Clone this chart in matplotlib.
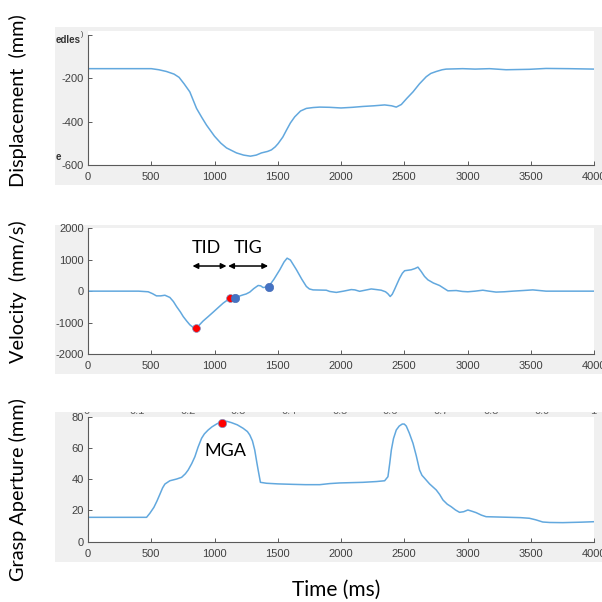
import matplotlib
matplotlib.use("Agg")
import matplotlib.pyplot as plt
from matplotlib.patches import Rectangle
from matplotlib.transforms import Bbox, TransformedBbox

# ---- displacement trace (mm) ----
disp_t = [0, 300, 500, 560, 620, 680, 720, 760, 805, 858, 900, 937, 1000, 1050, 1095,
          1174, 1230, 1284, 1330, 1371, 1420, 1450, 1480, 1503, 1540, 1569, 1600, 1634,
          1680, 1726, 1780, 1832, 1910, 2000, 2090, 2174, 2260, 2345, 2400, 2437, 2477,
          2520, 2569, 2620, 2674, 2710, 2753, 2800, 2832, 2962, 3060, 3174, 3305, 3489,
          3621, 3800, 4000]
disp_v = [-155, -155, -155, -160, -168, -180, -195, -225, -262, -338, -380, -415, -466,
          -498, -520, -543, -553, -558, -553, -543, -536, -529, -515, -500, -470, -438,
          -405, -377, -350, -338, -334, -332, -333, -336, -333, -329, -326, -322, -326,
          -332, -320, -292, -262, -225, -192, -177, -168, -160, -157, -155, -157, -155,
          -160, -158, -154, -155, -157]

# ---- velocity trace (mm/s) ----
vel_t = [0, 400, 476, 510, 541, 575, 608, 647, 675, 700, 730, 753, 780, 805, 830, 850,
         870, 910, 950, 989, 1030, 1068, 1100, 1134, 1180, 1226, 1250, 1279, 1310, 1345,
         1365, 1384, 1400, 1429, 1470, 1516, 1550, 1574, 1600, 1648, 1690, 1726, 1750,
         1779, 1884, 1911, 1963, 2020, 2081, 2110, 2147, 2190, 2239, 2280, 2318, 2352,
         2370, 2389, 2405, 2424, 2445, 2463, 2485, 2503, 2555, 2585, 2608, 2634, 2660,
         2687, 2730, 2779, 2810, 2845, 2911, 2960, 3003, 3060, 3121, 3170, 3226, 3290,
         3358, 3440, 3516, 3621, 3800, 4000]
vel_v = [0, 0, -20, -80, -150, -150, -130, -200, -330, -490, -660, -810, -950, -1070,
         -1150, -1170, -1120, -950, -810, -670, -520, -383, -290, -225, -180, -118, -90,
         -30, 80, 180, 170, 115, 125, 150, 380, 680, 930, 1050, 990, 680, 380, 150, 70,
         40, 30, -10, -40, 0, 50, 40, -5, 30, 70, 50, 30, -20, -80, -170, -100, 60, 250,
         410, 570, 650, 680, 720, 765, 625, 470, 360, 260, 180, 100, 10, 20, -10, -20, 0,
         30, 0, -30, -20, 0, 20, 40, 0, 0, 0]

# event markers on the velocity trace
red_t = [850, 1122]
red_v = [-1160, -222]
blue_t = [1160, 1427]
blue_v = [-222, 147]

# interval arrows (TID, TIG)
tid_span = [826, 1095]
tig_span = [1108, 1424]
arrow_level = 800

# ---- grasp aperture trace (mm) ----
grasp_t = [0, 300, 463, 489, 521, 545, 568, 590, 608, 647, 700, 740, 770, 792, 820,
           845, 870, 898, 920, 950, 980, 1016, 1063, 1100, 1134, 1180, 1226, 1260, 1279,
           1300, 1318, 1335, 1345, 1363, 1411, 1500, 1621, 1720, 1832, 1911, 1990, 2174,
           2280, 2345, 2371, 2385, 2398, 2415, 2437, 2460, 2484, 2500, 2516, 2540, 2569,
           2595, 2621, 2640, 2661, 2700, 2753, 2780, 2806, 2840, 2871, 2905, 2937, 2970,
           3003, 3035, 3068, 3110, 3147, 3240, 3332, 3420, 3489, 3540, 3595, 3650, 3753,
           3900, 4000]
grasp_v = [15.6, 15.6, 15.6, 18.2, 22, 26, 30.3, 34.5, 36.9, 39, 40.1, 41.2, 43.5, 45.9,
           50, 54.4, 60.5, 66.2, 69, 71.5, 73.5, 75.3, 77.2, 77, 76.2, 74.8, 72.6, 70.5,
           68.3, 64.5, 58.7, 50.5, 45.9, 38, 37.4, 37, 36.7, 36.5, 36.5, 37.2, 37.6, 38,
           38.5, 39, 41.6, 50, 58.7, 66, 71.5, 74, 75.3, 75.3, 74, 69.5, 63, 55, 45.9,
           42.5, 40.6, 37, 33.1, 30.2, 26.7, 24, 22.4, 20.3, 18.8, 19.2, 20.3, 19.5, 18.6,
           17, 16, 15.8, 15.6, 15.4, 15, 14, 12.6, 12.3, 12.2, 12.5, 12.8]

mga_t = [1063]
mga_v = [76.2]

x_ticks = [0, 500, 1000, 1500, 2000, 2500, 3000, 3500, 4000]

W = H = 602
LINE = "#62a8de"
PANEL = "#f0f0f0"
AXC = "#5a5a5a"
TICKC = "#404040"
LABEL_FONT = "Lato"
TICK_FONT = "Liberation Sans"

fig = plt.figure(figsize=(W / 100, H / 100), dpi=100)
fig.patch.set_facecolor("white")


def frac_rect(x0, y0, x1, y1):
    """Pixel box (top-left origin) -> figure fraction rect."""
    return [x0 / W, 1 - y1 / H, (x1 - x0) / W, (y1 - y0) / H]


def panel(x0, y0, x1, y1, color=PANEL):
    l, b, w, h = frac_rect(x0, y0, x1, y1)
    fig.patches.append(Rectangle((l, b), w, h, transform=fig.transFigure,
                                 facecolor=color, edgecolor="none", zorder=-10))


def make_axes(box):
    ax = fig.add_axes(frac_rect(*box))
    ax.set_facecolor("white")
    for s in ("top", "right"):
        ax.spines[s].set_visible(False)
    for s in ("left", "bottom"):
        ax.spines[s].set_color(AXC)
        ax.spines[s].set_linewidth(0.8)
    ax.tick_params(direction="in", length=3, width=0.7, color=AXC,
                   labelsize=8, labelcolor=TICKC, pad=3)
    ax.tick_params(axis="x", pad=5)
    ax.set_xlim(0, 4000)
    ax.set_xticks(x_ticks)
    ax.set_xticklabels([str(v) for v in x_ticks])
    for lab in ax.get_xticklabels() + ax.get_yticklabels():
        lab.set_fontfamily(TICK_FONT)
    return ax


# grey figure panels behind each plot
panel(55, 27, 602, 185)
panel(55, 225, 602, 374)
panel(55, 412, 602, 562)
panel(88, 31, 594, 36, "white")

# ---- displacement ----
ax1 = make_axes((88, 35, 594, 165.3))
ax1.plot(disp_t, disp_v, color=LINE, lw=1.1)
ax1.set_ylim(-600, 0)
ax1.set_yticks([-600, -400, -200, 0])
ax1.set_yticklabels(["-600", "-400", "-200", ""], fontfamily=TICK_FONT)

# ---- velocity ----
ax2 = make_axes((88, 228.3, 594, 354))
ax2.plot(vel_t, vel_v, color=LINE, lw=1.1, zorder=2)
ax2.set_ylim(-2000, 2000)
ax2.set_yticks([-2000, -1000, 0, 1000, 2000])
ax2.set_yticklabels(["-2000", "-1000", "0", "1000", "2000"], fontfamily=TICK_FONT)
ax2.plot(red_t, red_v, "o", color="#ff0000", ms=5.6, mec="#7f8fc0", mew=0.5, zorder=3)
ax2.plot(blue_t, blue_v, "o", color="#4472c4", ms=6, mec="#4a6fb8", mew=0.5, zorder=4)
for span in (tid_span, tig_span):
    ax2.annotate("", xy=(span[0], arrow_level), xytext=(span[1], arrow_level),
                 arrowprops=dict(arrowstyle="<|-|>", color="black", lw=1.1,
                                 mutation_scale=8, shrinkA=0, shrinkB=0))
ax2.text(936, 1370, "TID", fontsize=13, fontfamily=LABEL_FONT, ha="center", va="center")
ax2.text(1265, 1370, "TIG", fontsize=13, fontfamily=LABEL_FONT, ha="center", va="center")

# ---- grasp aperture ----
ax3 = make_axes((88, 416.7, 594, 541.7))
ax3.plot(grasp_t, grasp_v, color=LINE, lw=1.1, zorder=2)
ax3.set_ylim(0, 80)
ax3.set_yticks([0, 20, 40, 60, 80])
ax3.set_yticklabels(["0", "20", "40", "60", "80"], fontfamily=TICK_FONT)
ax3.plot(mga_t, mga_v, "o", color="#ff0000", ms=6, mec="#7f8fc0", mew=0.5, zorder=3)
ax3.text(1082, 58.2, "MGA", fontsize=13, fontfamily=LABEL_FONT, ha="center", va="center")

# axis titles
YLAB_SIZE = 14.3
fig.text(18 / W, 1 - 101 / H, "Displacement  (mm)", rotation=90, fontsize=YLAB_SIZE,
         fontfamily=LABEL_FONT, ha="center", va="center")
fig.text(18 / W, 1 - 292 / H, "Velocity  (mm/s)", rotation=90, fontsize=YLAB_SIZE,
         fontfamily=LABEL_FONT, ha="center", va="center")
fig.text(18 / W, 1 - 490 / H, "Grasp Aperture (mm)", rotation=90, fontsize=YLAB_SIZE,
         fontfamily=LABEL_FONT, ha="center", va="center")
fig.text(336 / W, 1 - 590 / H, "Time (ms)", fontsize=15, fontfamily=LABEL_FONT,
         ha="center", va="center")

# leftover labels at the panel edges
fig.text(56 / W, 1 - 40 / H, "edles", fontsize=7, fontweight="bold", color="#333333",
         fontfamily=TICK_FONT, ha="left", va="center")
fig.text(81 / W, 1 - 34 / H, ")", fontsize=5, color="#333333",
         fontfamily=TICK_FONT, ha="left", va="center")
fig.text(56 / W, 1 - 157 / H, "e", fontsize=7, fontweight="bold", color="#333333",
         fontfamily=TICK_FONT, ha="left", va="center")

# clipped tick labels along the top edge of the lower panel
clip = TransformedBbox(Bbox.from_extents(55 / W, 1 - 415 / H, 1.0, 1 - 411.5 / H),
                       fig.transFigure)
frag = ["0", "0.1", "0.2", "0.3", "0.4", "0.5", "0.6", "0.7", "0.8", "0.9", "1"]
for i, s in enumerate(frag):
    xp = 87 + i * 50.6
    t = fig.text(xp / W, 1 - 414.5 / H, s, fontsize=8, color="#606060",
                 fontfamily=TICK_FONT, ha="center", va="baseline")
    t.set_clip_box(clip)
    t.set_clip_on(True)

fig.savefig("out.png", dpi=100, facecolor="white")
